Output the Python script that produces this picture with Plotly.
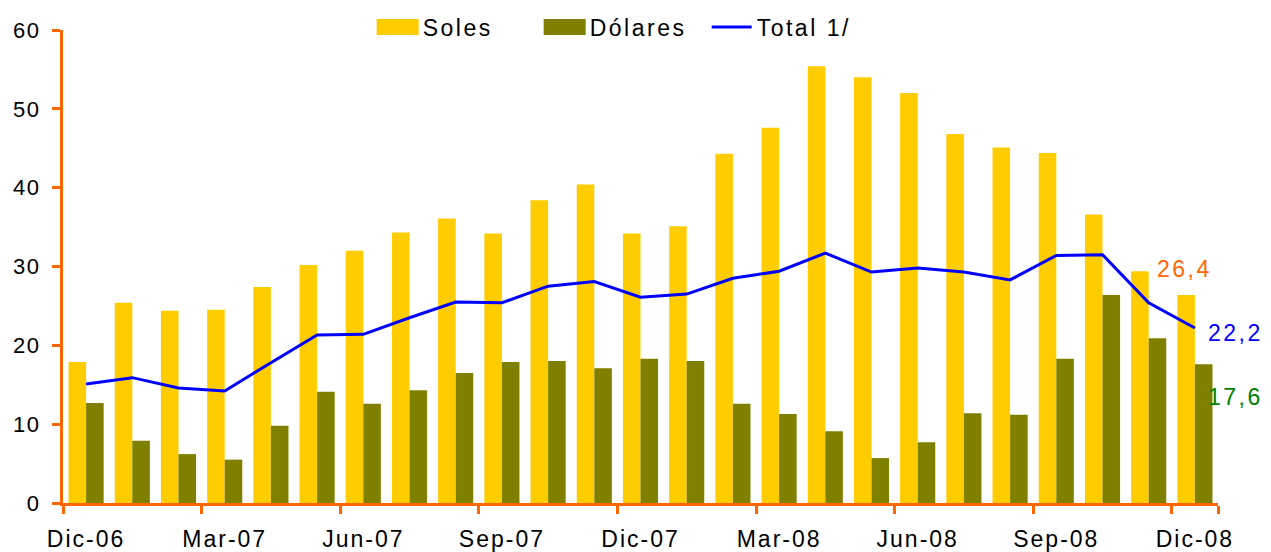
import plotly.graph_objects as go

meses = ["Dic-06", "Ene-07", "Feb-07", "Mar-07", "Abr-07", "May-07", "Jun-07", "Jul-07",
         "Ago-07", "Sep-07", "Oct-07", "Nov-07", "Dic-07", "Ene-08", "Feb-08", "Mar-08",
         "Abr-08", "May-08", "Jun-08", "Jul-08", "Ago-08", "Sep-08", "Oct-08", "Nov-08", "Dic-08"]
soles = [17.9, 25.4, 24.4, 24.5, 27.4, 30.2, 32.0, 34.3, 36.1, 34.2, 38.4, 40.4, 34.2,
         35.1, 44.3, 47.6, 55.4, 54.0, 52.0, 46.8, 45.1, 44.4, 36.6, 29.4, 26.4]
dolares = [12.7, 7.9, 6.2, 5.5, 9.8, 14.1, 12.6, 14.3, 16.5, 17.9, 18.0, 17.1, 18.3,
           18.0, 12.6, 11.3, 9.1, 5.7, 7.7, 11.4, 11.2, 18.3, 26.4, 20.9, 17.6]
total = [15.1, 15.9, 14.6, 14.2, 17.8, 21.3, 21.4, 23.5, 25.5, 25.4, 27.5, 28.1, 26.1,
         26.5, 28.5, 29.4, 31.7, 29.3, 29.8, 29.3, 28.3, 31.4, 31.5, 25.4, 22.2]
etiquetas = ["Dic-06", "Mar-07", "Jun-07", "Sep-07", "Dic-07", "Mar-08", "Jun-08", "Sep-08", "Dic-08"]

ORANGE = "#FF6600"
FONT = "Liberation Sans"

fig = go.Figure()
fig.add_trace(go.Bar(x=meses, y=soles, name="Soles", marker_color="#FFCC00",
                     marker_line_width=0))
fig.add_trace(go.Bar(x=meses, y=dolares, name="Dólares", marker_color="#808000",
                     marker_line_width=0))
fig.add_trace(go.Scatter(x=meses, y=total, name="Total 1/", mode="lines",
                         line=dict(color="#0000FF", width=3)))

def fmt(v):
    return f"{v:.1f}".replace(".", ",")

fig.add_annotation(x=meses[-1], y=soles[-1], text=fmt(soles[-1]), showarrow=False,
                   xanchor="center", yanchor="middle", xshift=-10, yshift=26,
                   font=dict(color=ORANGE, size=23, family=FONT))
fig.add_annotation(x=meses[-1], y=total[-1], text=fmt(total[-1]), showarrow=False,
                   xanchor="left", yanchor="middle", xshift=16, yshift=-5,
                   font=dict(color="#0000FF", size=23, family=FONT))
fig.add_annotation(x=meses[-1], y=dolares[-1], text=fmt(dolares[-1]), showarrow=False,
                   xanchor="left", yanchor="middle", xshift=16, yshift=-33,
                   font=dict(color="#008000", size=23, family=FONT))

fig.update_layout(
    width=1271, height=552,
    margin=dict(l=63, r=53, t=30, b=49, autoexpand=False),
    paper_bgcolor="white", plot_bgcolor="white",
    barmode="group", bargap=0.24, bargroupgap=0,
    font=dict(family=FONT, size=22, color="#000000"),
    legend=dict(orientation="h", x=0.485, xanchor="center",
                yref="container", y=1 - 27 / 552, yanchor="middle",
                font=dict(size=23, family=FONT), entrywidth=112, entrywidthmode="pixels",
                itemwidth=40, bgcolor="rgba(0,0,0,0)"),
    showlegend=True,
)
fig.update_xaxes(type="category", categoryorder="array", categoryarray=meses,
                 range=[-0.5, len(meses) - 0.5],
                 tickmode="array", tickvals=etiquetas, ticktext=etiquetas,
                 tickson="boundaries", ticks="outside", ticklen=8, tickwidth=3,
                 tickcolor=ORANGE, showline=True, linecolor=ORANGE, linewidth=3,
                 showgrid=False, zeroline=False, automargin=False, tickangle=0,
                 ticklabelstandoff=13, tickfont=dict(size=23, family=FONT))
fig.update_yaxes(range=[0, 60], tickmode="linear", tick0=0, dtick=10,
                 ticks="outside", ticklen=8, tickwidth=3, tickcolor=ORANGE,
                 showline=True, linecolor=ORANGE, linewidth=3,
                 showgrid=False, zeroline=False, automargin=False,
                 ticklabelstandoff=7, tickfont=dict(size=22, family=FONT))

post = """
var s=document.createElement('style');
s.innerHTML='html,body{margin:0;padding:0;} .xtick text{letter-spacing:2px;} .ytick text{letter-spacing:1.5px;} .legendtext{letter-spacing:2.5px;} .annotation-text{letter-spacing:2.5px;}';
document.head.appendChild(s);
var gd = document.getElementById('{plot_id}');
function bigSwatch(){
  var ps = gd.querySelectorAll('.legend .legendpoints path');
  ps.forEach(function(p){
    var d = p.getAttribute('d') || '';
    if (d.indexOf('M6,6H-6V-6H6Z') === 0) {
      p.setAttribute('d', 'M21,8H-21V-8H21Z');
    }
  });
}
bigSwatch();
if (gd && gd.on) { gd.on('plotly_afterplot', bigSwatch); }
"""
fig.write_html("out.html", post_script=post, config={"displayModeBar": False})
